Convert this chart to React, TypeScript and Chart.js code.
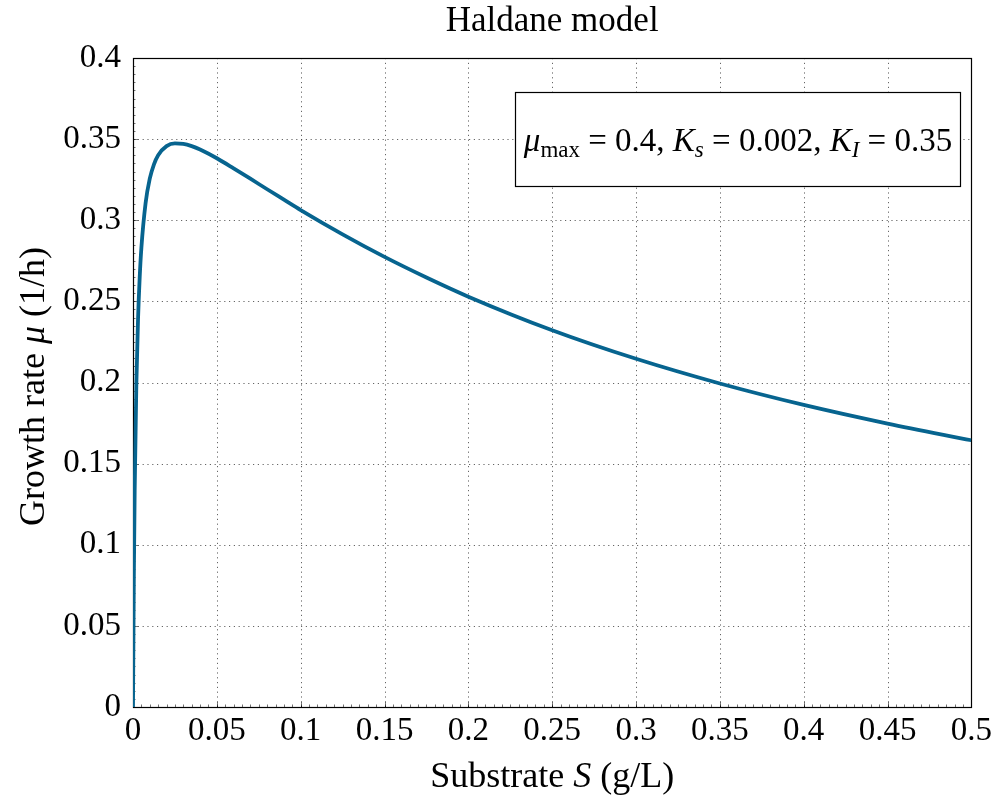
import { useEffect, useRef } from 'react';
import { Chart, registerables } from 'chart.js';

Chart.register(...registerables);

// Substrate concentration S (g/L)
const substrate = [
  0, 0.0005, 0.001, 0.002, 0.003, 0.004, 0.005, 0.0075, 0.01, 0.0125, 0.015, 0.02, 0.025, 0.03,
  0.035, 0.04, 0.05, 0.06, 0.07, 0.08, 0.09, 0.1, 0.125, 0.15, 0.175, 0.2, 0.25, 0.3, 0.35, 0.4,
  0.45, 0.5,
];
// Growth rate mu (1/h)
const growthRate = [
  0, 0.08, 0.133, 0.199, 0.239, 0.265, 0.283, 0.3105, 0.3256, 0.3345, 0.3401, 0.3457, 0.3474,
  0.3471, 0.3457, 0.3436, 0.3382, 0.332, 0.3256, 0.3191, 0.3127, 0.3063, 0.2913, 0.2774, 0.2647,
  0.2529, 0.2322, 0.2146, 0.1994, 0.1862, 0.1747, 0.1644,
];

const xTickValues = [0, 0.05, 0.1, 0.15, 0.2, 0.25, 0.3, 0.35, 0.4, 0.45, 0.5];
const xTickLabels = ['0', '0.05', '0.1', '0.15', '0.2', '0.25', '0.3', '0.35', '0.4', '0.45', '0.5'];
const yTickValues = [0, 0.05, 0.1, 0.15, 0.2, 0.25, 0.3, 0.35, 0.4];
const yTickLabels = ['0', '0.05', '0.1', '0.15', '0.2', '0.25', '0.3', '0.35', '0.4'];
const minorStep = 0.005;

const titleText = 'Haldane model';

const SERIF = "'Liberation Serif', 'DejaVu Serif', serif";
const f = (size: number, italic = false) => `${italic ? 'italic ' : ''}${size}px ${SERIF}`;

type Seg = { t: string; f: string; dy?: number };

const xTitleSegs: Seg[] = [
  { t: 'Substrate ', f: f(36) },
  { t: 'S', f: f(36, true) },
  { t: ' (g/L)', f: f(36) },
];
const yTitleSegs: Seg[] = [
  { t: 'Growth rate ', f: f(36) },
  { t: 'μ', f: f(36, true) },
  { t: ' (1/h)', f: f(36) },
];
const legendSegs: Seg[] = [
  { t: 'μ', f: f(33, true) },
  { t: 'max', f: f(23), dy: 6 },
  { t: ' = 0.4, ', f: f(33) },
  { t: 'K', f: f(33, true) },
  { t: 's', f: f(23, true), dy: 6 },
  { t: ' = 0.002, ', f: f(33) },
  { t: 'K', f: f(33, true) },
  { t: 'I', f: f(23, true), dy: 6 },
  { t: ' = 0.35', f: f(33) },
];

function richWidth(ctx: CanvasRenderingContext2D, segs: Seg[]) {
  let w = 0;
  for (const s of segs) {
    ctx.font = s.f;
    w += ctx.measureText(s.t).width;
  }
  return w;
}

function drawRich(ctx: CanvasRenderingContext2D, segs: Seg[], cx: number, y: number) {
  const w = richWidth(ctx, segs);
  let x = cx - w / 2;
  ctx.textAlign = 'left';
  ctx.textBaseline = 'alphabetic';
  for (const s of segs) {
    ctx.font = s.f;
    ctx.fillText(s.t, x, y + (s.dy || 0));
    x += ctx.measureText(s.t).width;
  }
}

const decorPlugin = {
  id: 'decor',
  beforeDatasetsDraw(chart: any) {
    const { ctx, chartArea: a, scales } = chart;
    const xs = scales.x;
    const ys = scales.y;
    ctx.save();
    // dotted grid
    ctx.strokeStyle = 'rgba(0,0,0,0.6)';
    ctx.lineWidth = 1;
    ctx.setLineDash([1.2, 3.6]);
    for (const v of xTickValues) {
      const px = Math.round(xs.getPixelForValue(v)) + 0.5;
      ctx.beginPath();
      ctx.moveTo(px, a.top);
      ctx.lineTo(px, a.bottom);
      ctx.stroke();
    }
    for (const v of yTickValues) {
      const py = Math.round(ys.getPixelForValue(v)) + 0.5;
      ctx.beginPath();
      ctx.moveTo(a.left, py);
      ctx.lineTo(a.right, py);
      ctx.stroke();
    }
    ctx.setLineDash([]);
    // minor ticks (left & bottom)
    ctx.strokeStyle = 'rgba(0,0,0,0.55)';
    const nx = Math.round((xs.max - xs.min) / minorStep);
    for (let i = 0; i <= nx; i++) {
      const px = Math.round(xs.getPixelForValue(xs.min + i * minorStep)) + 0.5;
      ctx.beginPath();
      ctx.moveTo(px, a.bottom);
      ctx.lineTo(px, a.bottom - 2.5);
      ctx.stroke();
    }
    const ny = Math.round((ys.max - ys.min) / minorStep);
    for (let i = 0; i <= ny; i++) {
      const py = Math.round(ys.getPixelForValue(ys.min + i * minorStep)) + 0.5;
      ctx.beginPath();
      ctx.moveTo(a.left, py);
      ctx.lineTo(a.left + 2.5, py);
      ctx.stroke();
    }
    // major ticks
    ctx.strokeStyle = 'rgba(0,0,0,0.5)';
    for (const v of xTickValues) {
      const px = Math.round(xs.getPixelForValue(v)) + 0.5;
      ctx.beginPath();
      ctx.moveTo(px, a.bottom);
      ctx.lineTo(px, a.bottom - 5);
      ctx.stroke();
    }
    for (const v of yTickValues) {
      const py = Math.round(ys.getPixelForValue(v)) + 0.5;
      ctx.beginPath();
      ctx.moveTo(a.left, py);
      ctx.lineTo(a.left + 5, py);
      ctx.stroke();
    }
    // frame
    ctx.strokeStyle = '#000';
    ctx.lineWidth = 1.2;
    ctx.strokeRect(Math.round(a.left) + 0.5, Math.round(a.top) + 0.5, Math.round(a.right - a.left), Math.round(a.bottom - a.top));
    ctx.restore();
  },
  afterDatasetsDraw(chart: any) {
    const { ctx, chartArea: a } = chart;
    ctx.save();
    ctx.fillStyle = '#000';
    const cx = (a.left + a.right) / 2;
    // title
    ctx.font = f(35);
    ctx.textAlign = 'center';
    ctx.textBaseline = 'alphabetic';
    ctx.fillText(titleText, cx, 31);
    // x title
    drawRich(ctx, xTitleSegs, cx, 787);
    // y title
    ctx.save();
    ctx.translate(44, (a.top + a.bottom) / 2 + 4);
    ctx.rotate(-Math.PI / 2);
    drawRich(ctx, yTitleSegs, 0, 0);
    ctx.restore();
    // legend box
    const bx = 515.5, by = 92.5, bw = 445, bh = 94;
    ctx.fillStyle = '#fff';
    ctx.fillRect(bx, by, bw, bh);
    ctx.strokeStyle = '#000';
    ctx.lineWidth = 1.2;
    ctx.strokeRect(bx, by, bw, bh);
    ctx.fillStyle = '#000';
    drawRich(ctx, legendSegs, bx + bw / 2, 151);
    ctx.restore();
  },
};

export default function App() {
  const ref = useRef<HTMLCanvasElement | null>(null);

  useEffect(() => {
    if (!ref.current) return;
    const chart = new Chart(ref.current, {
      type: 'line',
      data: {
        datasets: [
          {
            data: substrate.map((s, i) => ({ x: s, y: growthRate[i] })),
            borderColor: '#07648f',
            borderWidth: 3.8,
            pointRadius: 0,
            fill: false,
            cubicInterpolationMode: 'monotone',
          },
        ],
      },
      options: {
        responsive: false,
        animation: false,
        layout: { padding: { top: 58, right: 24, left: 0, bottom: 0 } },
        plugins: {
          legend: { display: false },
          title: { display: false },
          tooltip: { enabled: false },
        },
        scales: {
          x: {
            type: 'linear',
            min: 0,
            max: 0.5,
            grid: { display: false, drawTicks: false },
            border: { display: false },
            afterBuildTicks: (scale: any) => {
              scale.ticks = xTickValues.map((v) => ({ value: v }));
            },
            afterFit: (scale: any) => {
              scale.height = 91;
            },
            ticks: {
              padding: 5,
              maxRotation: 0,
              autoSkip: false,
              color: '#000',
              font: { family: SERIF, size: 33 },
              callback: (_v: any, i: number) => xTickLabels[i],
            },
          },
          y: {
            type: 'linear',
            min: 0,
            max: 0.4,
            grid: { display: false, drawTicks: false },
            border: { display: false },
            afterBuildTicks: (scale: any) => {
              scale.ticks = yTickValues.map((v) => ({ value: v }));
            },
            afterFit: (scale: any) => {
              scale.width = 133;
            },
            ticks: {
              padding: 12,
              autoSkip: false,
              color: '#000',
              font: { family: SERIF, size: 33 },
              callback: (_v: any, i: number) => yTickLabels[i],
            },
          },
        },
      },
      plugins: [decorPlugin],
    } as any);
    return () => chart.destroy();
  }, []);

  return (
    <div style={{ position: 'absolute', left: 0, top: 0, width: 997, height: 798, background: '#fff' }}>
      <canvas ref={ref} width={997} height={798} style={{ display: 'block' }} />
    </div>
  );
}
